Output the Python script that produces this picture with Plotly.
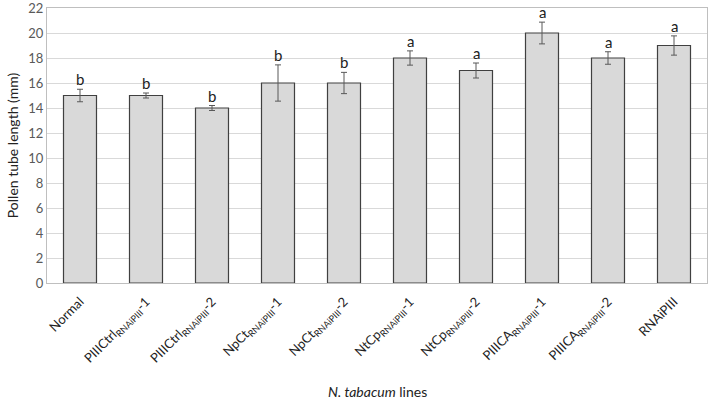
import plotly.graph_objects as go

categories = ["Normal",
              "PIIICtrl<sub>RNAiPIII</sub>-1",
              "PIIICtrl<sub>RNAiPIII</sub>-2",
              "NpCt<sub>RNAiPIII</sub>-1",
              "NpCt<sub>RNAiPIII</sub>-2",
              "NtCp<sub>RNAiPIII</sub>-1",
              "NtCp<sub>RNAiPIII</sub>-2",
              "PIIICA<sub>RNAiPIII</sub>-1",
              "PIIICA<sub>RNAiPIII</sub>-2",
              "RNAiPIII"]
values = [15, 15, 14, 16, 16, 18, 17, 20, 18, 19]
errors = [0.5, 0.2, 0.2, 1.45, 0.85, 0.57, 0.6, 0.87, 0.5, 0.77]
letters = ["b", "b", "b", "b", "b", "a", "a", "a", "a", "a"]
y_ticks = list(range(0, 23, 2))

FONT = "Lato, 'Open Sans', sans-serif"

fig = go.Figure()
fig.add_trace(go.Bar(
    x=list(range(len(categories))), y=values,
    marker=dict(color="#d9d9d9", line=dict(color="#404040", width=1.2)),
    error_y=dict(type="data", array=errors, visible=True, color="#595959",
                 thickness=1, width=3),
    width=0.5,
))

for i, (v, e, l) in enumerate(zip(values, errors, letters)):
    fig.add_annotation(x=i, y=v + e, text=l, showarrow=False,
                       yshift=10, font=dict(size=15, color="#222", family=FONT))

fig.add_annotation(xref="paper", yref="paper", x=0.5, y=-0.395, yanchor="middle",
                   text="<i>N. tabacum</i> lines", showarrow=False,
                   font=dict(size=14, color="#222", family=FONT))

fig.update_layout(
    width=709, height=404,
    margin=dict(l=47, r=2, t=8, b=121),
    plot_bgcolor="white", paper_bgcolor="white",
    showlegend=False,
    font=dict(family=FONT, color="#222"),
    xaxis=dict(
        tickmode="array", tickvals=list(range(len(categories))), ticktext=categories,
        tickangle=-45, range=[-0.5, len(categories) - 0.5], automargin=False,
        showline=True, linecolor="#bfbfbf", mirror=True,
        ticks="outside", ticklen=5, tickcolor="rgba(0,0,0,0)",
        tickfont=dict(size=13, color="#222"),
    ),
    yaxis=dict(
        range=[0, 22], tickmode="array", tickvals=y_ticks, automargin=False,
        ticklabeloverflow="allow",
        showgrid=True, gridcolor="#d9d9d9", gridwidth=1,
        showline=True, linecolor="#bfbfbf", mirror=True, zeroline=False,
        tickfont=dict(size=13, color="#595959"),
        title=dict(text="Pollen tube length (mm)", font=dict(size=14, color="#222"),
                   standoff=6),
    ),
)

fig.write_html("out.html", config={"displayModeBar": False},
               post_script="document.body.style.margin='0';")
